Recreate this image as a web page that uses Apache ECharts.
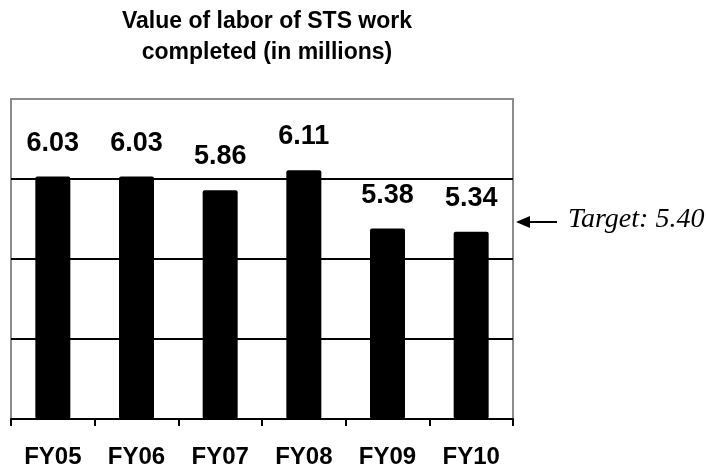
<!DOCTYPE html>
<html>
<head>
<meta charset="utf-8">
<script src="https://cdn.jsdelivr.net/npm/echarts@6/dist/echarts.min.js"></script>
<style>
  html, body { margin: 0; padding: 0; background: #fff; }
  #main { width: 706px; height: 472px; }
</style>
</head>
<body>
<div id="main"></div>
<script>
// data
var years = ['FY05', 'FY06', 'FY07', 'FY08', 'FY09', 'FY10'];
var laborValues = [6.03, 6.03, 5.86, 6.11, 5.38, 5.34];
var targetText = 'Target: 5.40';

var chart = echarts.init(document.getElementById('main'));

chart.setOption({
    animation: false,
    backgroundColor: '#fff',
    title: {
        text: 'Value of labor of STS work\ncompleted (in millions)',
        left: 262,
        top: 1,
        textAlign: 'center',
        textStyle: {
            fontFamily: 'Liberation Sans, Arial',
            fontWeight: 'bold',
            fontSize: 23,
            lineHeight: 31,
            color: '#000'
        }
    },
    grid: {
        left: 11,
        right: 193,
        top: 99,
        bottom: 53,
        show: true,
        borderColor: '#8c8c8c',
        borderWidth: 2,
        backgroundColor: '#fff'
    },
    xAxis: {
        type: 'category',
        data: years,
        boundaryGap: true,
        axisLine: { show: true, lineStyle: { color: '#000', width: 2 } },
        axisTick: { show: true, length: 7, lineStyle: { color: '#000', width: 2 } },
        axisLabel: {
            margin: 26,
            color: '#000',
            fontFamily: 'Liberation Sans, Arial',
            fontWeight: 'bold',
            fontSize: 24
        }
    },
    yAxis: {
        type: 'value',
        min: 3,
        max: 7,
        interval: 1,
        axisLine: { show: false },
        axisTick: { show: false },
        axisLabel: { show: false },
        splitLine: {
            show: true,
            lineStyle: { color: ['#000', '#000', '#000', '#000', '#8c8c8c'], width: 2 }
        }
    },
    series: [{
        type: 'bar',
        data: laborValues,
        barWidth: 35,
        itemStyle: { color: '#000', borderRadius: 2 },
        label: {
            show: true,
            position: 'top',
            distance: 20,
            color: '#000',
            fontFamily: 'Liberation Sans, Arial',
            fontWeight: 'bold',
            fontSize: 27,
            formatter: function (p) { return p.value.toFixed(2); }
        }
    }],
    graphic: [
        {
            type: 'line',
            shape: { x1: 522, y1: 222, x2: 557, y2: 222 },
            style: { stroke: '#000', lineWidth: 2 }
        },
        {
            type: 'polygon',
            shape: { points: [[516, 222], [530, 216], [530, 228]] },
            style: { fill: '#000' }
        },
        {
            type: 'text',
            left: 568,
            top: 206,
            style: {
                text: targetText,
                fill: '#000',
                font: 'italic 28px "Liberation Serif", "Times New Roman", serif'
            }
        }
    ]
});
</script>
</body>
</html>
